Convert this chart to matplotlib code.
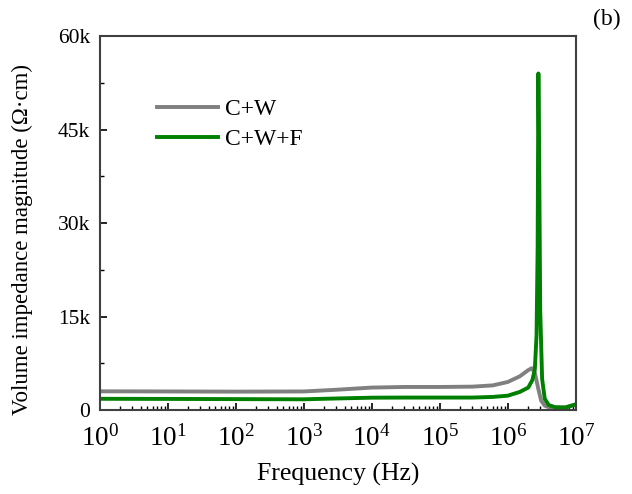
import matplotlib.pyplot as plt
from matplotlib.ticker import FixedLocator, FuncFormatter, LogLocator, NullFormatter

plt.rcParams['font.family'] = ['Liberation Serif', 'DejaVu Serif']
plt.rcParams['mathtext.fontset'] = 'custom'
plt.rcParams['mathtext.rm'] = 'Liberation Serif'
plt.rcParams['mathtext.it'] = 'Liberation Serif:italic'

# frequency points (Hz) and impedance magnitudes (Ohm*cm)
freq_cw = [1, 10, 100, 1e3, 3e3, 1e4, 3e4, 1e5, 3e5, 6e5, 1e6, 1.5e6, 2e6, 2.25e6, 2.5e6,
           2.8e6, 3.1e6, 3.5e6, 4e6, 5e6, 7e6, 1e7]
z_cw = [3000, 2980, 2950, 2980, 3250, 3600, 3700, 3700, 3750, 3950, 4500, 5400, 6400, 6700, 6000,
        3500, 1500, 700, 450, 400, 400, 900]

freq_cwf = [1, 10, 100, 1e3, 3e3, 1e4, 3e4, 1e5, 3e5, 6e5, 1e6, 1.5e6, 2e6, 2.3e6, 2.5e6,
            2.65e6, 2.75e6, 2.82e6, 2.9e6, 3.0e6, 3.2e6, 3.5e6, 4e6, 5e6, 7e6, 1e7]
z_cwf = [1800, 1780, 1750, 1720, 1850, 1980, 2000, 2000, 2000, 2100, 2300, 2900, 3600, 4800, 6500,
         12000, 26000, 54000, 40000, 16000, 5000, 1800, 800, 450, 400, 900]

x_ticks = [1, 10, 100, 1e3, 1e4, 1e5, 1e6, 1e7]
y_ticks = [0, 15000, 30000, 45000, 60000]

fig = plt.figure(figsize=(6.32, 4.94), dpi=100)
ax = fig.add_axes([0.158, 0.170, 0.753, 0.757])

ax.plot(freq_cw, z_cw, color='#808080', lw=2.8, label='C+W')
ax.plot(freq_cwf, z_cwf, color='#008000', lw=2.8, label='C+W+F')

ax.set_xscale('log')
ax.set_xlim(1, 1e7)
ax.set_ylim(0, 60000)
ax.xaxis.set_major_locator(FixedLocator(x_ticks))
ax.xaxis.set_minor_locator(LogLocator(base=10, subs=range(2, 10), numticks=20))
ax.xaxis.set_minor_formatter(NullFormatter())
ax.set_xticklabels([r'$\mathrm{10}^{%d}$' % i for i in range(8)])
ax.set_yticks(y_ticks)
ax.set_yticks([7500, 22500, 37500, 52500], minor=True)
ax.yaxis.set_major_formatter(FuncFormatter(lambda v, p: '0' if v == 0 else '%dk' % (v / 1000)))

ax.tick_params(which='major', direction='in', length=5, width=1.2)
ax.tick_params(which='minor', direction='in', length=3, width=1.0)
ax.tick_params(axis='x', which='major', labelsize=19.5, pad=11)
ax.tick_params(axis='y', which='major', labelsize=15.5, pad=7)
for s in ax.spines.values():
    s.set_color('#404040')
    s.set_linewidth(1.5)

ax.set_xlabel('Frequency (Hz)', fontsize=18.5, labelpad=8)
ax.set_ylabel('Volume impedance magnitude (Ω·cm)', fontsize=16.5)
ax.yaxis.set_label_coords(-0.14, 0.455)

ax.legend(loc='upper left', bbox_to_anchor=(0.075, 0.89), frameon=False, fontsize=17,
          handlelength=2.6, labelspacing=0.35, handletextpad=0.3)
fig.text(0.982, 0.982, '(b)', fontsize=17, ha='right', va='top')

fig.savefig('out.png', dpi=100)
